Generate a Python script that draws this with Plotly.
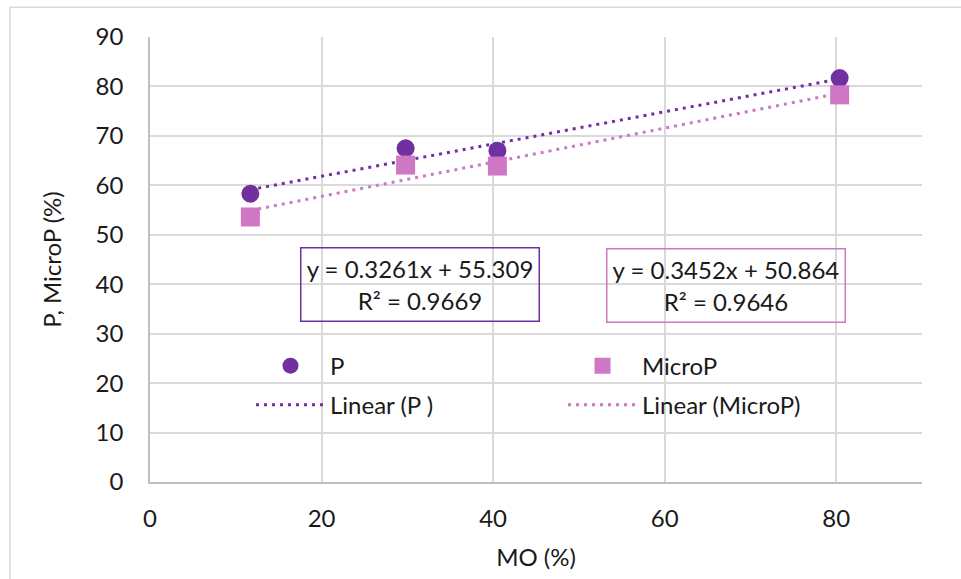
import numpy as np
import plotly.graph_objects as go

# Data
mo = [11.7, 29.8, 40.5, 80.4]
p_vals = [58.3, 67.5, 67.0, 81.7]
microp_vals = [53.6, 64.1, 63.9, 78.3]

# Displayed trendline coefficients (slope, intercept, R²)
p_fit = [0.3261, 55.309, 0.9669]
microp_fit = [0.3452, 50.864, 0.9646]

x_ticks = [0, 20, 40, 60, 80]
y_ticks = [0, 10, 20, 30, 40, 50, 60, 70, 80, 90]

PURPLE = "#7030A0"
PINK = "#CF76C4"
FONT = "Lato"
TXT = "#1a1a1a"
FS = 24

xr = np.array([min(mo), max(mo)])

fig = go.Figure()
fig.add_trace(go.Scatter(
    x=mo, y=p_vals, mode="markers", name="P",
    marker=dict(symbol="circle", size=18, color=PURPLE),
    legend="legend", legendgroup="a"))
fig.add_trace(go.Scatter(
    x=xr, y=p_fit[0] * xr + p_fit[1], mode="lines", name="Linear (P )",
    line=dict(color=PURPLE, width=3, dash="3px,5px"),
    legend="legend", legendgroup="b"))
fig.add_trace(go.Scatter(
    x=mo, y=microp_vals, mode="markers", name="MicroP",
    marker=dict(symbol="square", size=19, color=PINK),
    legend="legend2", legendgroup="c"))
fig.add_trace(go.Scatter(
    x=xr, y=microp_fit[0] * xr + microp_fit[1], mode="lines", name="Linear (MicroP)",
    line=dict(color=PINK, width=3, dash="3px,5px"),
    legend="legend2", legendgroup="d"))

def eq_text(fit):
    return f"y = {fit[0]}x + {fit[1]}<br>R² = {fit[2]}"

fig.add_annotation(x=31.42, y=39.9, xref="x", yref="y", text=eq_text(p_fit),
                   showarrow=False, width=237, height=72, borderpad=0,
                   bordercolor=PURPLE, borderwidth=1.5, align="center",
                   font=dict(family=FONT, size=FS, color=TXT))
fig.add_annotation(x=67.2, y=39.7, xref="x", yref="y", text=eq_text(microp_fit),
                   showarrow=False, width=237, height=72, borderpad=0,
                   bordercolor=PINK, borderwidth=1.5, align="center",
                   font=dict(family=FONT, size=FS, color=TXT))

L, R, T, B = 150, 39, 37.3, 96.5
W, H = 961, 579
pw, ph = W - L - R, H - T - B

# outer chart border
fig.add_shape(type="rect", xref="paper", yref="paper",
              x0=(10 - L) / pw, x1=(W + 20 - L) / pw,
              y0=(H - B - (H + 20)) / ph, y1=(H - B - 7.5) / ph,
              line=dict(color="#d9d9d9", width=1.5), layer="below")

legend_common = dict(orientation="v", font=dict(family=FONT, size=FS, color=TXT),
                     bgcolor="rgba(0,0,0,0)", tracegroupgap=5, itemwidth=69,
                     xanchor="left", yanchor="top")
fig.update_layout(
    width=W, height=H,
    margin=dict(l=L, r=R, t=T, b=B),
    plot_bgcolor="white", paper_bgcolor="white",
    font=dict(family=FONT, size=FS, color=TXT),
    showlegend=True,
    legend=dict(x=(251 - L) / pw, y=(H - B - 344) / ph, **legend_common),
    legend2=dict(x=(563 - L) / pw, y=(H - B - 344) / ph, **legend_common),
    xaxis=dict(range=[0, 90], tickvals=x_ticks, showgrid=True, gridcolor="#d9d9d9",
               gridwidth=1.5, showline=True, linecolor="#bfbfbf", linewidth=1.5,
               zeroline=False, ticks="", ticklabelstandoff=14,
               title=dict(text="MO (%)", standoff=19, font=dict(family=FONT, size=FS))),
    yaxis=dict(range=[0, 90], tickvals=y_ticks, showgrid=True, gridcolor="#d9d9d9",
               gridwidth=1.5, showline=True, linecolor="#bfbfbf", linewidth=1.5,
               zeroline=False, ticks="", ticklabelstandoff=20,
               title=dict(text="P, MicroP (%)", standoff=27, font=dict(family=FONT, size=FS))),
)

fig.write_html("out.html", config={"displayModeBar": False},
               post_script="document.body.style.margin='0';")
